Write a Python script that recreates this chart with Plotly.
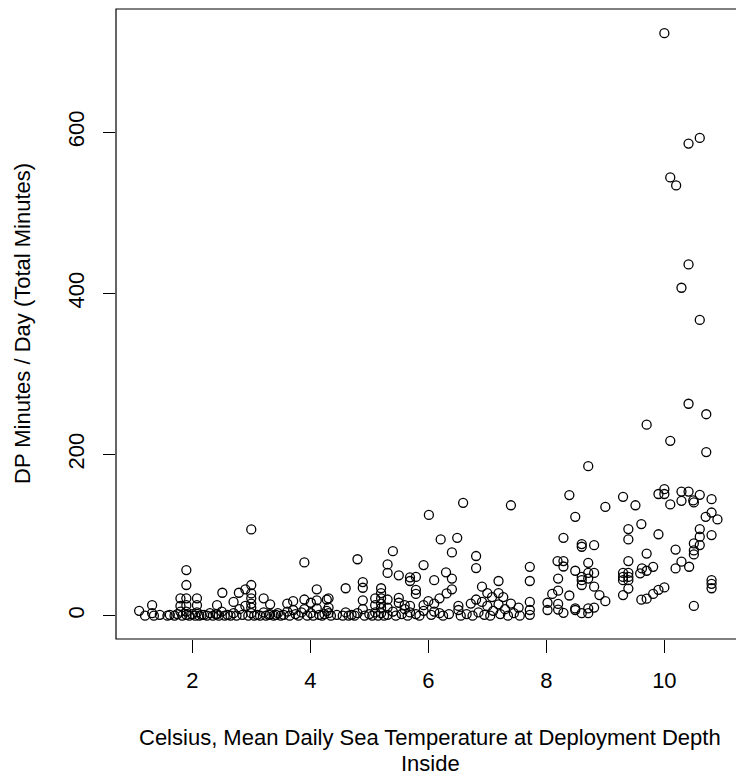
import plotly.graph_objects as go

# Mean daily sea temperature at deployment depth (Celsius), inside site
temp_c = [
    # cold days, 1-4.4 C
    1.10, 1.20, 1.32, 1.32, 1.35, 1.45, 1.58, 1.62, 1.70, 1.75, 1.80, 1.80, 1.80, 1.83,
    1.90, 1.90, 1.90, 1.90, 1.90, 1.90, 1.95, 2.00, 2.05, 2.08, 2.08, 2.08, 2.12, 2.16,
    2.20, 2.25, 2.30, 2.35, 2.40, 2.42, 2.42, 2.45, 2.50, 2.51, 2.55, 2.60, 2.65, 2.70,
    2.70, 2.75, 2.79, 2.80, 2.85, 2.90, 2.90, 2.95, 3.00, 3.00, 3.00, 3.00, 3.00, 3.00,
    3.00, 3.05, 3.10, 3.15, 3.21, 3.21, 3.25, 3.30, 3.32, 3.32, 3.38, 3.42, 3.45, 3.50,
    3.55, 3.61, 3.61, 3.65, 3.71, 3.71, 3.75, 3.80, 3.85, 3.90, 3.90, 3.90, 3.95, 4.01,
    4.01, 4.05, 4.11, 4.11, 4.11, 4.15, 4.20, 4.24, 4.28, 4.28, 4.31, 4.31, 4.31, 4.35,
    # mid range, 4.4-7.9 C
    4.45, 4.55, 4.60, 4.60, 4.65, 4.70, 4.75, 4.80, 4.80, 4.89, 4.89, 4.89, 4.89, 4.92,
    5.00, 5.05, 5.10, 5.10, 5.10, 5.15, 5.20, 5.20, 5.20, 5.20, 5.20, 5.20, 5.25, 5.31,
    5.31, 5.31, 5.31, 5.31, 5.40, 5.40, 5.45, 5.50, 5.50, 5.50, 5.55, 5.60, 5.60, 5.65,
    5.69, 5.69, 5.69, 5.69, 5.79, 5.79, 5.79, 5.79, 5.85, 5.92, 5.92, 5.92, 6.00, 6.01,
    6.05, 6.10, 6.10, 6.10, 6.19, 6.19, 6.21, 6.25, 6.30, 6.31, 6.35, 6.40, 6.40, 6.40,
    6.49, 6.51, 6.51, 6.55, 6.59, 6.65, 6.72, 6.75, 6.81, 6.81, 6.81, 6.85, 6.91, 6.91,
    6.95, 7.00, 7.00, 7.05, 7.08, 7.10, 7.19, 7.19, 7.19, 7.22, 7.27, 7.30, 7.35, 7.40,
    7.40, 7.45, 7.53, 7.55, 7.72, 7.72, 7.72, 7.72, 7.72,
    # warm days, 8-11 C
    8.02, 8.02, 8.10, 8.19, 8.20, 8.20, 8.20, 8.20, 8.29, 8.29, 8.29, 8.29, 8.39, 8.39,
    8.49, 8.49, 8.49, 8.49, 8.60, 8.60, 8.60, 8.60, 8.60, 8.60, 8.71, 8.71, 8.71, 8.71,
    8.71, 8.71, 8.81, 8.81, 8.81, 8.81, 8.90, 9.00, 9.00, 9.30, 9.30, 9.30, 9.30, 9.30,
    9.39, 9.39, 9.39, 9.39, 9.39, 9.39, 9.39, 9.51, 9.59, 9.61, 9.61, 9.62, 9.70, 9.70,
    9.70, 9.70, 9.81, 9.81, 9.90, 9.90, 9.90, 10.00, 10.00, 10.00, 10.00, 10.10, 10.10,
    10.10, 10.19, 10.19, 10.20, 10.29, 10.29, 10.29, 10.29, 10.41, 10.41, 10.41, 10.41,
    10.42, 10.49, 10.50, 10.50, 10.50, 10.50, 10.50, 10.60, 10.60, 10.60, 10.60, 10.60,
    10.60, 10.71, 10.71, 10.70, 10.80, 10.80, 10.80, 10.80, 10.80, 10.80, 10.90,
]

# Diving-pattern minutes per day (total minutes)
dp_min = [
    6, 0, 13, 3, 0, 1, 0, 1, 0, 2, 21.5, 12, 5, 0,
    56.6, 38, 21.5, 13, 5, 1, 0, 2, 0, 21.5, 13, 4, 0, 1,
    1, 0, 3, 0, 2, 13, 2, 0, 5, 28.4, 0, 1, 0, 17,
    3, 0, 28.4, 8, 1, 32.6, 12, 0, 107, 38, 27.6, 21.5, 15, 10,
    3, 0, 1, 0, 21.5, 4, 0, 1, 14, 2, 0, 1, 3, 0,
    1, 15, 5, 0, 18, 7, 2, 0, 4, 66, 20, 8, 0, 16,
    3, 0, 32.6, 19, 9, 1, 0, 2, 20, 6, 21.5, 10, 3, 0,
    1, 0, 34, 4, 0, 1, 0, 70, 3, 41.6, 34.6, 19, 8, 0,
    2, 0, 21.5, 13, 4, 0, 34, 28, 21.5, 15, 9.5, 3, 0, 63.6,
    53, 20, 10, 1, 80, 5, 0, 50, 22, 16, 2, 13, 8, 0,
    47.5, 43, 12, 4, 48, 32, 27, 2, 0, 62.7, 13, 6, 18, 125,
    1, 44, 15, 5, 21.5, 3, 94.6, 0, 53.7, 27.6, 2, 78.5, 46, 32.6,
    96.6, 12, 7, 0, 140, 2, 15, 0, 74, 59, 20, 4, 36, 17,
    1, 28, 12, 0, 23, 6, 43, 28, 14, 2, 23, 8, 0, 137,
    15, 3, 10, 0, 60.6, 43, 17, 7, 1,
    16, 7, 27, 67.7, 46, 31, 14.5, 7.5, 96.6, 67.7, 61, 3.5, 149.6, 25,
    122.7, 55.7, 9, 7, 88.8, 85.5, 48, 44, 38, 3, 185.5, 65.6, 53, 46,
    9, 3, 87.5, 53, 36, 10, 25.5, 135, 18, 147.5, 53, 48, 44, 25.5,
    107.4, 94.6, 67.7, 53, 48, 44, 33.6, 137, 52.5, 113.6, 19.8, 58.6, 237, 77,
    55.7, 21, 60.6, 27, 151, 101, 32, 157, 151, 35, 723, 544, 217,
    138, 82, 58.6, 534, 407, 154, 142.5, 67, 586, 436, 263, 154,
    60.7, 143, 140.5, 89.6, 81, 76, 12, 593, 367, 150, 107.4, 98,
    87.6, 250, 203, 122.7, 144.6, 128, 100, 44, 39.5, 34, 119.4,
]

x_ticks = [2, 4, 6, 8, 10]
y_ticks = [0, 200, 400, 600]

FONT = "Liberation Sans, Arial, sans-serif"
FS = 22

# plot area in pixels: x 116..736, y 9..639
PX_L, PX_W = 116, 620
PY_B, PY_H = 639, 630

fig = go.Figure(
    go.Scatter(
        x=temp_c,
        y=dp_min,
        mode="markers",
        marker=dict(symbol="circle-open", size=9, color="black", line=dict(width=1.3)),
        hoverinfo="x+y",
    )
)

fig.update_layout(
    width=736,
    height=778,
    margin=dict(l=PX_L, r=0, t=9, b=778 - PY_B),
    paper_bgcolor="white",
    plot_bgcolor="white",
    showlegend=False,
    font=dict(family=FONT, size=FS, color="black"),
    xaxis=dict(
        range=[0.708, 11.214],
        tickvals=x_ticks,
        ticktext=[str(v) for v in x_ticks],
        ticks="outside",
        ticklen=13,
        tickwidth=1,
        tickcolor="black",
        showgrid=False,
        zeroline=False,
        showline=False,
        ticklabelstandoff=9,
    ),
    yaxis=dict(
        range=[-29, 753],
        tickvals=y_ticks,
        ticktext=[str(v) for v in y_ticks],
        tickangle=-90,
        ticks="outside",
        ticklen=12,
        tickwidth=1,
        tickcolor="black",
        showgrid=False,
        zeroline=False,
        showline=False,
        ticklabelstandoff=10,
    ),
    shapes=[
        # plot frame; its right side runs past the page edge
        dict(type="rect", xref="paper", yref="paper", x0=0, x1=1.05, y0=0, y1=1,
             line=dict(color="black", width=1.2), fillcolor="rgba(0,0,0,0)", layer="above"),
    ],
    annotations=[
        dict(text="DP Minutes / Day (Total Minutes)", xref="paper", yref="paper",
             x=(22 - PX_L) / PX_W, y=0.5, textangle=-90, showarrow=False,
             xanchor="center", yanchor="middle", font=dict(size=FS)),
        dict(text="Celsius, Mean Daily Sea Temperature at Deployment Depth",
             xref="paper", yref="paper", x=(430 - PX_L) / PX_W, y=-(738 - PY_B) / PY_H,
             showarrow=False, xanchor="center", yanchor="middle", font=dict(size=FS)),
        dict(text="Inside", xref="paper", yref="paper", x=(430 - PX_L) / PX_W,
             y=-(763 - PY_B) / PY_H, showarrow=False, xanchor="center", yanchor="middle",
             font=dict(size=FS)),
    ],
)

fig.write_html("out.html")
